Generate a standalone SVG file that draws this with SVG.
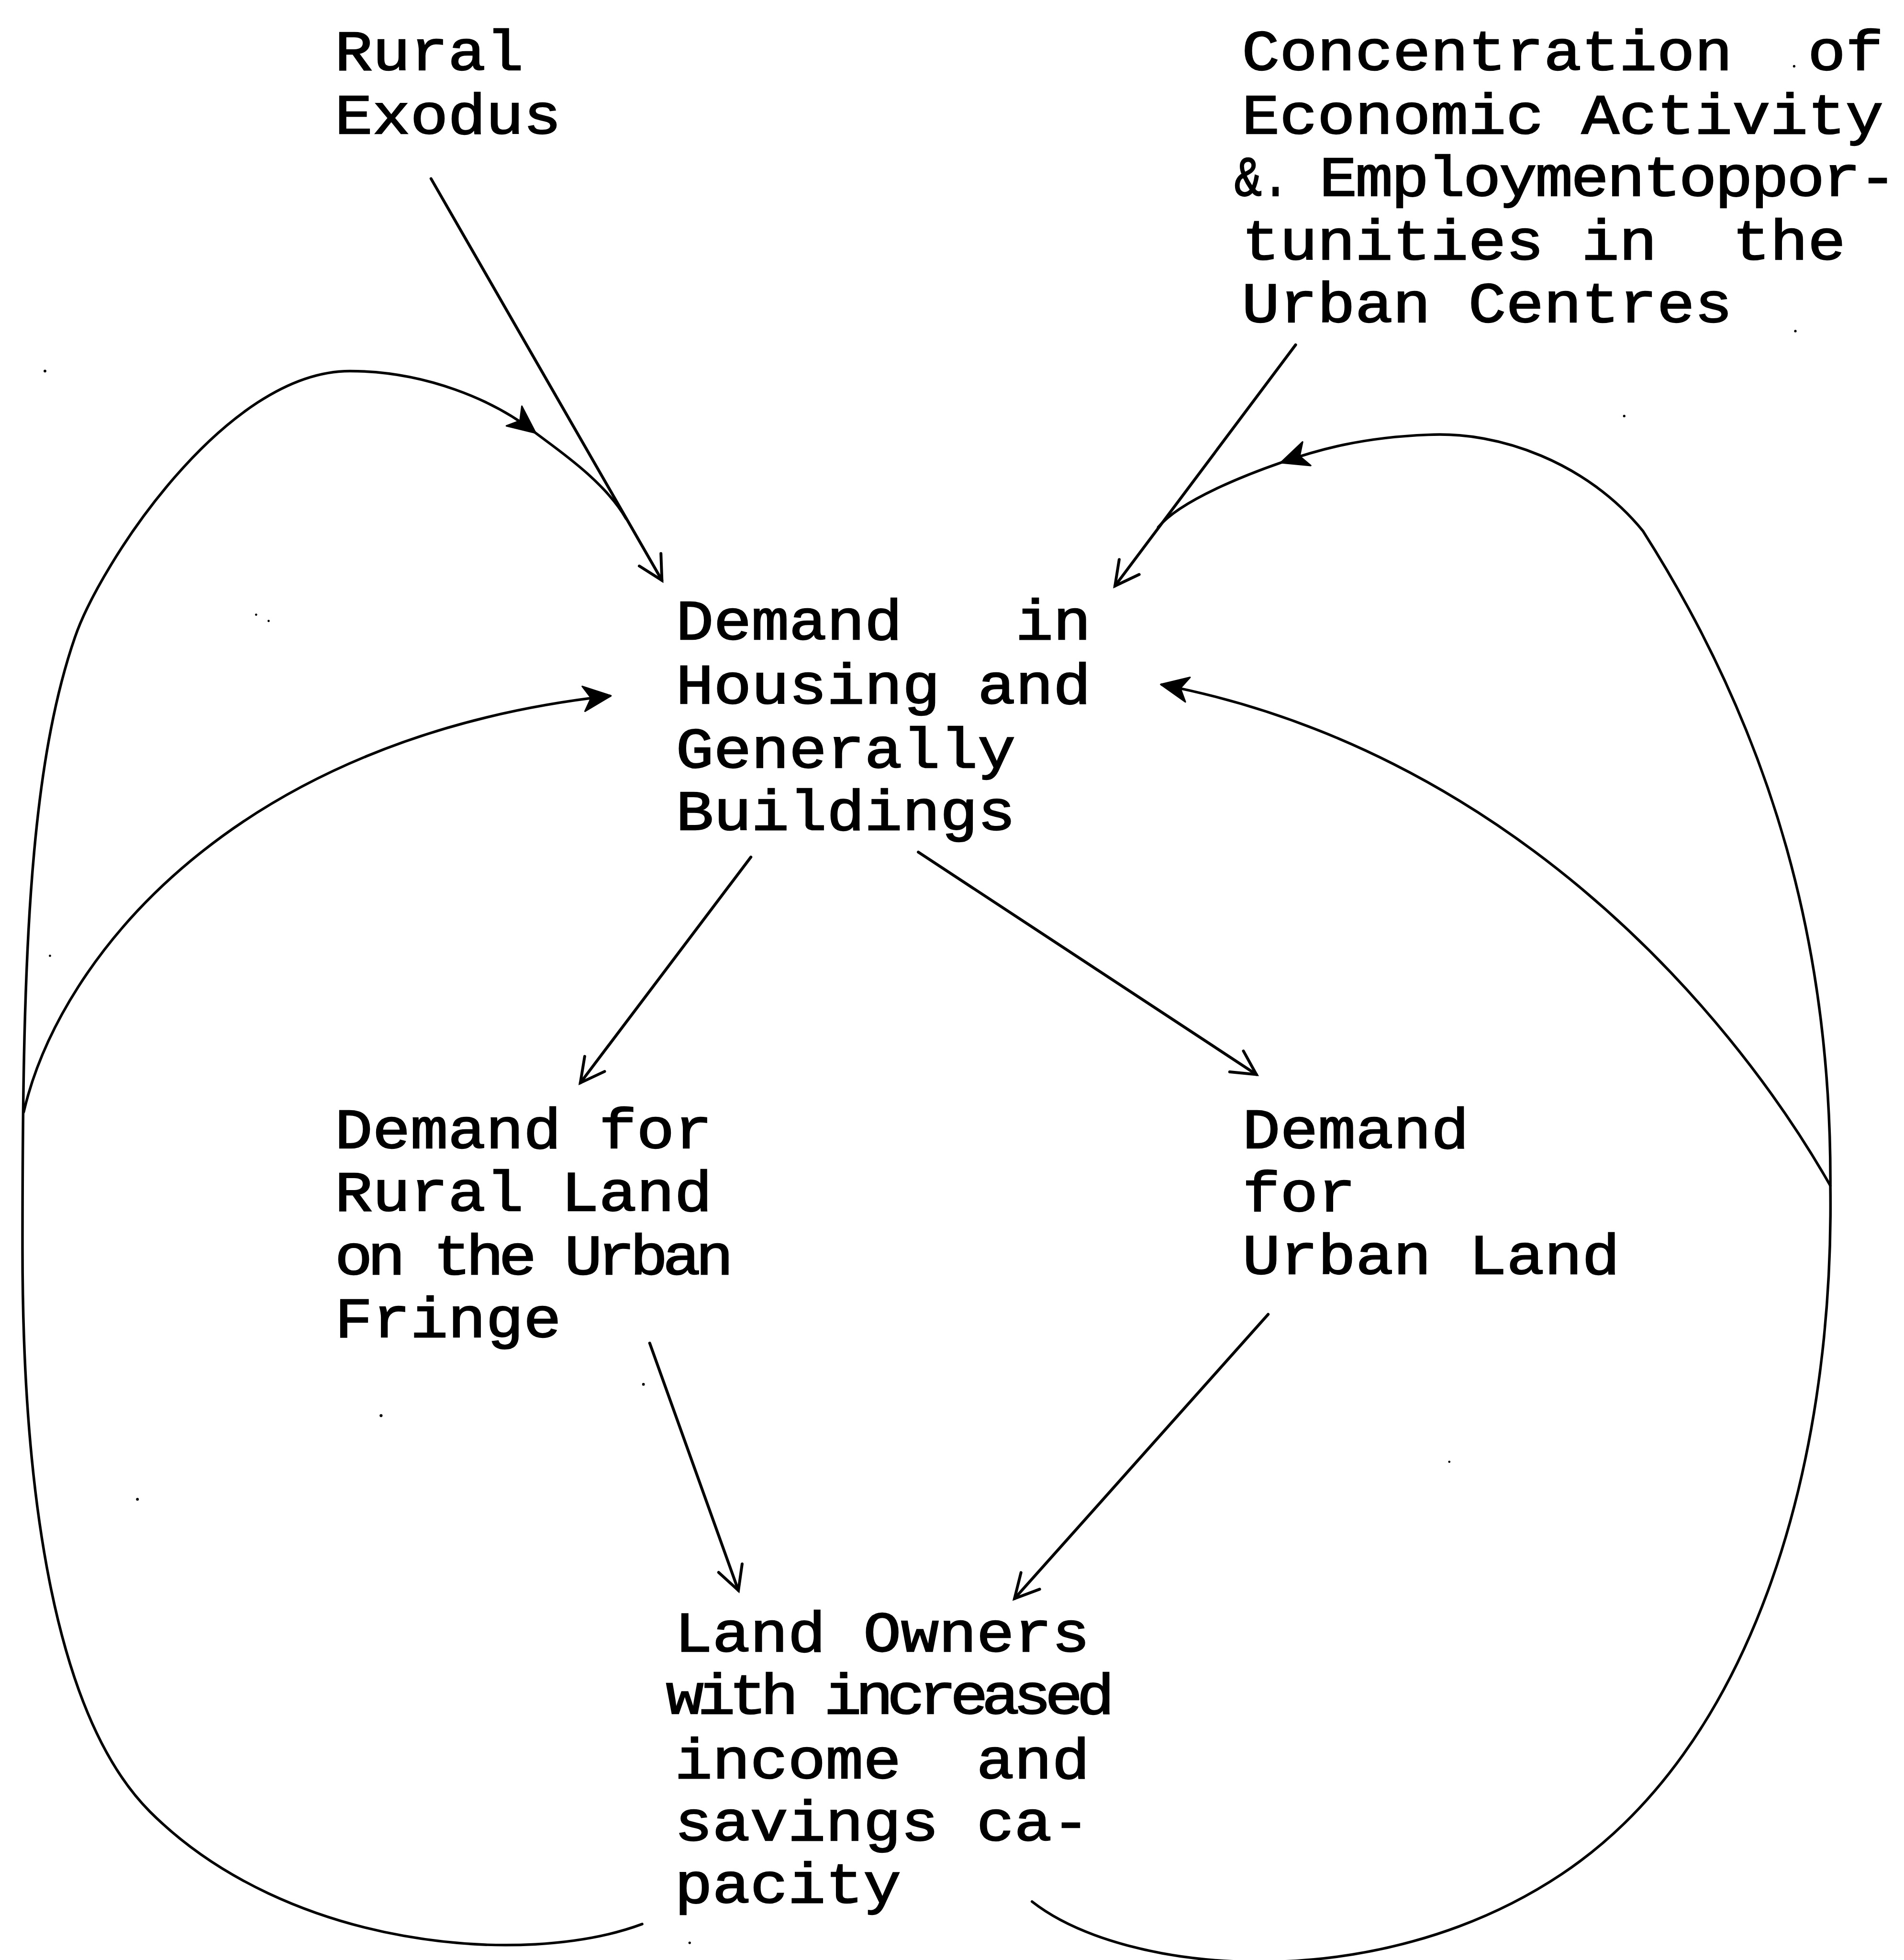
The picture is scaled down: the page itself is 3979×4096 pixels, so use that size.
<svg xmlns="http://www.w3.org/2000/svg" width="3979" height="4096" viewBox="0 0 3979 4096">
<style>
.t{font-family:"Liberation Mono","Courier New",monospace;font-size:45.3px;fill:#000;stroke:#000;stroke-width:0.9;white-space:pre}
.c{fill:none;stroke:#000;stroke-width:2.3;stroke-linecap:round;stroke-linejoin:round}
.l{fill:none;stroke:#000;stroke-width:2.1;stroke-linecap:round;stroke-linejoin:round}
.s{fill:#000}
</style>
<defs>
<marker id="open" markerUnits="userSpaceOnUse" markerWidth="40" markerHeight="40" refX="0" refY="0" orient="auto" overflow="visible">
<path d="M -19,-10 L 0,0 L -19,10" fill="none" stroke="#000" stroke-width="2.3" stroke-linejoin="miter" stroke-linecap="round"/>
</marker>
<marker id="solid" markerUnits="userSpaceOnUse" markerWidth="40" markerHeight="40" refX="0" refY="0" orient="auto" overflow="visible">
<path d="M 1,0 L -21,-10 L -15,0 L -21,10 Z" fill="#000" stroke="#000" stroke-width="1.2" stroke-linejoin="round"/>
</marker>
</defs>
<rect width="3979" height="4096" fill="#fff"/>
<g transform="scale(2.611)">
<g id="rural-exodus">
<text class="t" x="268" y="55.9" textLength="151" lengthAdjust="spacingAndGlyphs">Rural</text>
<text class="t" x="268" y="106.9" textLength="181.2" lengthAdjust="spacingAndGlyphs">Exodus</text>
</g>
<g id="concentration">
<text class="t" x="994" y="55.9" textLength="513.4" lengthAdjust="spacingAndGlyphs" xml:space="preserve">Concentration  of</text>
<text class="t" x="994" y="106.9" textLength="513.4" lengthAdjust="spacingAndGlyphs">Economic Activity</text>
<text class="t" x="988" y="156.7" textLength="44" lengthAdjust="spacingAndGlyphs">&amp;.</text>
<text class="t" x="1056" y="156.7" textLength="416.2" lengthAdjust="spacing" transform="translate(1056,0) scale(1.11,1) translate(-1056,0)">Employmentoppor-</text>
<text class="t" x="994" y="207.7" textLength="483.2" lengthAdjust="spacingAndGlyphs" xml:space="preserve">tunities in  the</text>
<text class="t" x="994" y="257.6" textLength="392.6" lengthAdjust="spacingAndGlyphs">Urban Centres</text>
</g>
<g id="demand-housing">
<text class="t" x="541" y="511.7" textLength="332.2" lengthAdjust="spacingAndGlyphs" xml:space="preserve">Demand   in</text>
<text class="t" x="541" y="563" textLength="332.2" lengthAdjust="spacingAndGlyphs">Housing and</text>
<text class="t" x="541" y="614.4" textLength="271.8" lengthAdjust="spacingAndGlyphs">Generally</text>
<text class="t" x="541" y="664" textLength="271.8" lengthAdjust="spacingAndGlyphs">Buildings</text>
</g>
<g id="demand-rural-land">
<text class="t" x="268" y="918.8" textLength="302" lengthAdjust="spacingAndGlyphs">Demand for</text>
<text class="t" x="268" y="969" textLength="302" lengthAdjust="spacingAndGlyphs">Rural Land</text>
<text class="t" x="268" y="1020" textLength="287.4" lengthAdjust="spacing" transform="translate(268,0) scale(1.11,1) translate(-268,0)">on the Urban</text>
<text class="t" x="268" y="1070" textLength="181.2" lengthAdjust="spacingAndGlyphs">Fringe</text>
</g>
<g id="demand-urban-land">
<text class="t" x="994.5" y="918.8" textLength="181.2" lengthAdjust="spacingAndGlyphs">Demand</text>
<text class="t" x="994.5" y="969.4" textLength="90.6" lengthAdjust="spacingAndGlyphs">for</text>
<text class="t" x="994.5" y="1019.6" textLength="302" lengthAdjust="spacingAndGlyphs">Urban Land</text>
</g>
<g id="land-owners">
<text class="t" x="540" y="1321.8" textLength="332.2" lengthAdjust="spacingAndGlyphs">Land Owners</text>
<text class="t" x="533" y="1371.6" textLength="323.4" lengthAdjust="spacing" transform="translate(533,0) scale(1.11,1) translate(-533,0)">with increased</text>
<text class="t" x="540" y="1423.1" textLength="332.2" lengthAdjust="spacingAndGlyphs" xml:space="preserve">income  and</text>
<text class="t" x="540" y="1473" textLength="332.2" lengthAdjust="spacingAndGlyphs">savings ca-</text>
<text class="t" x="540" y="1522.9" textLength="181.2" lengthAdjust="spacingAndGlyphs">pacity</text>
</g>
<g id="connectors">
<path class="c" d="M 345,143 L 529.8,464.5" marker-end="url(#open)"/>
<path class="c" d="M 1037,276 L 892.4,469" marker-end="url(#open)"/>
<path class="c" d="M 601,686 L 464.5,866.7" marker-end="url(#open)"/>
<path class="c" d="M 735,682 L 1005.6,860" marker-end="url(#open)"/>
<path class="c" d="M 520,1075 L 591,1273" marker-end="url(#open)"/>
<path class="c" d="M 1015,1052 L 812,1279.5" marker-end="url(#open)"/>
<path class="l" d="M 514,1540 C 420,1575 230,1560 120,1450 C 45,1375 18,1200 18,1000 C 18,780 22,620 60,510 C 80,452 180,297 280,297 C 340,297 395,320 428,346" marker-end="url(#solid)"/>
<path class="l" d="M 428,346 C 445,359 484,385 501,415"/>
<path class="l" d="M 19,890 C 48,765 190,590 488,557" marker-end="url(#solid)"/>
<path class="l" d="M 826,1522 C 900,1580 1100,1600 1250,1500 C 1400,1400 1468,1180 1465,950 C 1466,760 1420,590 1315,425 C 1270,370 1200,345 1143,348 C 1090,350 1055,360 1026,370" marker-end="url(#solid)"/>
<path class="l" d="M 1026,370 C 1000,379 945,400 927,422"/>
<path class="l" d="M 1465,949 C 1380,800 1200,600 930,548" marker-end="url(#solid)"/>
</g>
<g id="specks">
<circle class="s" cx="36" cy="297" r="1.1"/>
<circle class="s" cx="205" cy="492" r="0.9"/>
<circle class="s" cx="215" cy="497" r="0.9"/>
<circle class="s" cx="40" cy="765" r="0.9"/>
<circle class="s" cx="305" cy="1133" r="1.2"/>
<circle class="s" cx="110" cy="1200" r="1.1"/>
<circle class="s" cx="515" cy="1108" r="1.1"/>
<circle class="s" cx="1300" cy="333" r="1"/>
<circle class="s" cx="1160" cy="1170" r="0.9"/>
<circle class="s" cx="1437" cy="265" r="1"/>
<circle class="s" cx="552" cy="1555" r="1"/>
<circle class="s" cx="1436" cy="53" r="1"/>
</g>
</g>
</svg>
